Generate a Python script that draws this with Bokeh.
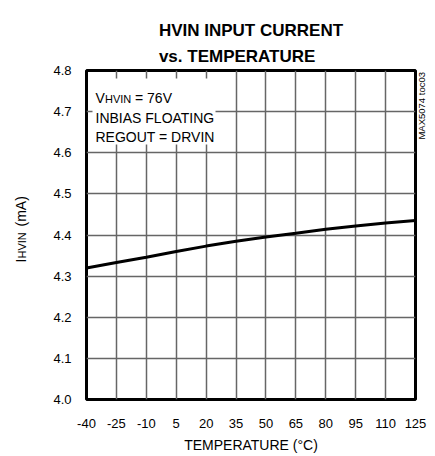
import math
from bokeh.plotting import figure
from bokeh.layouts import row
from bokeh.models import (Range1d, FixedTicker, PrintfTickFormatter, Label, BoxAnnotation,
                          Title, LinearAxis)
from bokeh.embed import file_html
from bokeh.resources import INLINE

# Data
temperature = [-40, -25, -10, 5, 20, 35, 50, 65, 80, 95, 110, 125]
current_ma = [4.320, 4.333, 4.346, 4.360, 4.373, 4.385, 4.395, 4.404, 4.414, 4.422, 4.429, 4.435]
x_ticks = [-40, -25, -10, 5, 20, 35, 50, 65, 80, 95, 110, 125]
y_ticks = [4.0, 4.1, 4.2, 4.3, 4.4, 4.5, 4.6, 4.7, 4.8]

H = 456
W_LEFT = 40
FL, FT, FW, FH = 86, 70, 330, 329
W_MAIN = 435 - W_LEFT
REG = "Liberation Sans"


def lab(fig, text, x, y, size, style="normal", align="left",
        baseline="alphabetic", angle=0.0):
    fig.add_layout(Label(x=x, y=y, x_units="screen", y_units="screen", text=text,
                         text_font=REG, text_font_size=size, text_font_style=style,
                         text_align=align, text_baseline=baseline, angle=angle,
                         text_color="black"))


p = figure(width=W_MAIN, height=H, output_backend="svg", toolbar_location=None,
           x_range=Range1d(-40, 125), y_range=Range1d(4.0, 4.8), title=None,
           min_border_left=FL - W_LEFT, min_border_right=W_MAIN - (FL - W_LEFT) - FW,
           min_border_top=FT, min_border_bottom=H - FT - FH)
p.background_fill_color = "white"
p.border_fill_color = "white"
p.outline_line_color = "black"
p.outline_line_width = 3

for ax in (p.xaxis[0], p.yaxis[0]):
    ax.axis_line_color = None
    ax.major_tick_line_color = None
    ax.minor_tick_line_color = None
    ax.major_tick_out = 0
    ax.major_tick_in = 0
    ax.minor_tick_out = 0
    ax.major_label_text_font = REG
    ax.major_label_text_font_size = "13px"
    ax.major_label_text_color = "black"

p.xaxis.ticker = FixedTicker(ticks=x_ticks)
p.xaxis.major_label_overrides = {t: str(t) for t in x_ticks}
p.yaxis.ticker = FixedTicker(ticks=y_ticks)
p.yaxis.formatter = PrintfTickFormatter(format="%.1f")
p.xaxis.major_label_standoff = 19
p.yaxis.major_label_standoff = 15
p.xaxis.axis_label = "TEMPERATURE (°C)"
p.xaxis.axis_label_text_font = REG
p.xaxis.axis_label_text_font_size = "14px"
p.xaxis.axis_label_text_font_style = "normal"
p.xaxis.axis_label_text_color = "black"
p.xaxis.axis_label_standoff = 6

p.xgrid.grid_line_color = "#666666"
p.ygrid.grid_line_color = "#666666"
p.xgrid.grid_line_width = 1.5
p.ygrid.grid_line_width = 1.5

p.line(temperature, current_ma, line_color="black", line_width=3)

# figure code on the right: a single vertical tick label of a bare right axis
code_y = 4.632
code_axis = LinearAxis(ticker=FixedTicker(ticks=[code_y]),
                       major_label_overrides={code_y: "MAX5074 toc03"},
                       major_label_orientation=math.pi / 2,
                       major_label_text_font=REG, major_label_text_font_size="9.5px",
                       major_label_text_color="black", major_label_standoff=6,
                       axis_line_color=None, major_tick_line_color=None,
                       minor_tick_line_color=None, major_tick_out=0, major_tick_in=0,
                       minor_tick_out=0)
p.add_layout(code_axis, "right")

# title (two lines)
p.add_layout(Title(text="HVIN INPUT CURRENT\nvs. TEMPERATURE", align="center",
                   vertical_align="top", standoff=6,
                   text_font=REG, text_font_size="17px", text_font_style="bold",
                   text_color="black", text_line_height=1.37), "above")

# white box behind the condition text (screen units are relative to the frame)
p.add_layout(BoxAnnotation(left=6, right=129, top=321, bottom=255,
                           left_units="screen", right_units="screen",
                           top_units="screen", bottom_units="screen",
                           fill_color="white", fill_alpha=1.0, line_color=None))

# conditions
lab(p, "V", 9, 301.7, "14px")
lab(p, "HVIN", 18.5, 300.5, "11px")
lab(p, "= 76V", 48.5, 301.7, "14px")
lab(p, "INBIAS FLOATING", 9, 281.7, "14px")
lab(p, "REGOUT = DRVIN", 9, 263, "14px")

# y axis label (rotated) in a left strip whose frame is aligned with the main frame
left = figure(width=W_LEFT, height=H, output_backend="svg", toolbar_location=None,
              x_axis_location=None, y_axis_location=None,
              x_range=Range1d(0, 1), y_range=Range1d(0, 1),
              min_border=0, title=None)
left.outline_line_color = None
left.xgrid.visible = False
left.ygrid.visible = False
left.background_fill_color = "white"
left.border_fill_color = "white"
lab(left, "I", 20, 137, "14px", angle=math.pi / 2)
lab(left, "HVIN", 21.5, 141, "11px", angle=math.pi / 2)
lab(left, "(mA)", 20, 173, "14px", angle=math.pi / 2)

layout = row(left, p)
open("out.html", "w").write(file_html(layout, INLINE))
